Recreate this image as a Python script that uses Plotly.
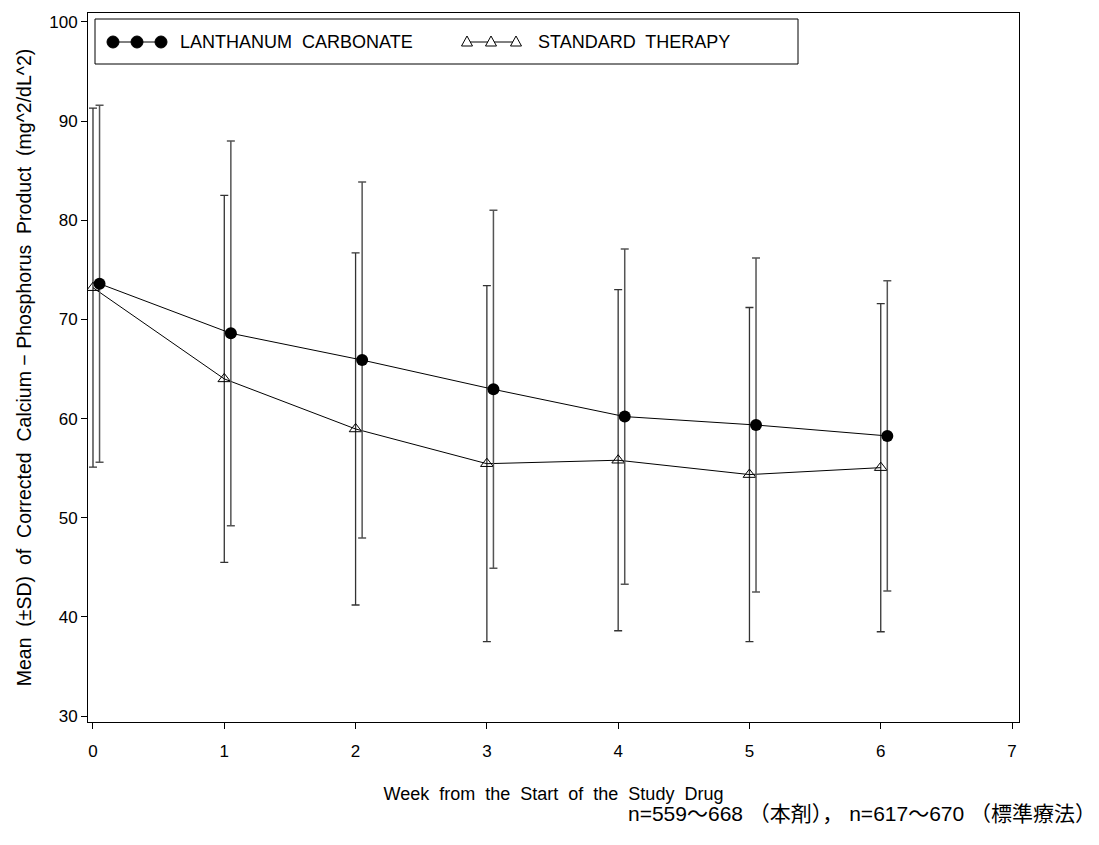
import plotly.graph_objects as go

# Weeks from the start of the study drug
weeks = [0, 1, 2, 3, 4, 5, 6]

# Lanthanum carbonate: mean and SD of corrected Ca x P product
lan_mean = [73.6, 68.6, 65.9, 62.95, 60.2, 59.35, 58.25]
lan_sd = [18.0, 19.4, 17.95, 18.05, 16.9, 16.85, 15.65]

# Standard therapy: mean and SD
std_mean = [73.2, 64.0, 58.95, 55.45, 55.8, 54.35, 55.05]
std_sd = [18.1, 18.5, 17.75, 17.95, 17.2, 16.85, 16.55]

x_ticks = [0, 1, 2, 3, 4, 5, 6, 7]
y_ticks = [30, 40, 50, 60, 70, 80, 90, 100]

series_names = ["LANTHANUM  CARBONATE", "STANDARD  THERAPY"]
x_title = "Week  from  the  Start  of  the  Study  Drug"
y_title = "Mean  (±SD)  of  Corrected  Calcium − Phosphorus  Product  (mg^2/dL^2)"
footnote = "n=559～668 （本剤）， n=617～670 （標準療法）"

FONT = "Liberation Sans, Arial, sans-serif"
W, H = 1099, 845
ML, MR, MT, MB = 88, 80, 13, 123
PW, PH = W - ML - MR, H - MT - MB
LAN_SHIFT = 0.05  # small horizontal dodge so the two groups do not overlap


def px(xp):
    return (xp - ML) / PW


def py(yp):
    return (H - MB - yp) / PH


fig = go.Figure()

fig.add_trace(go.Scatter(
    x=list(weeks), y=std_mean, mode="lines+markers",
    name=series_names[1], showlegend=False,
    line=dict(color="black", width=1),
    marker=dict(symbol="triangle-up-open", size=11, color="black",
                line=dict(width=1)),
    error_y=dict(type="data", array=std_sd, symmetric=True,
                 color="#333333", thickness=1.3, width=4),
))

fig.add_trace(go.Scatter(
    x=[w + LAN_SHIFT for w in weeks], y=lan_mean, mode="lines+markers",
    name=series_names[0], showlegend=False,
    line=dict(color="black", width=1),
    marker=dict(symbol="circle", size=12, color="black"),
    error_y=dict(type="data", array=lan_sd, symmetric=True,
                 color="#555555", thickness=1.5, width=4),
))

# Legend box drawn by hand so each entry shows three markers on a line
shapes = [dict(type="rect", xref="paper", yref="paper",
               x0=px(95), x1=px(798), y0=py(64), y1=py(19),
               line=dict(color="black", width=1), fillcolor="white", layer="above")]
ly = 42
shapes.append(dict(type="line", xref="paper", yref="paper",
                   x0=px(113), x1=px(161), y0=py(ly), y1=py(ly),
                   line=dict(color="black", width=1), layer="above"))
for cx in (113, 137, 161):
    shapes.append(dict(type="circle", xref="paper", yref="paper",
                       x0=px(cx - 6), x1=px(cx + 6), y0=py(ly + 6), y1=py(ly - 6),
                       line=dict(color="black", width=1), fillcolor="black",
                       layer="above"))
shapes.append(dict(type="line", xref="paper", yref="paper",
                   x0=px(467), x1=px(516), y0=py(ly), y1=py(ly),
                   line=dict(color="black", width=1), layer="above"))
for cx in (467, 491, 516):
    path = "M {} {} L {} {} L {} {} Z".format(
        px(cx), py(ly - 6), px(cx - 5.5), py(ly + 4), px(cx + 5.5), py(ly + 4))
    shapes.append(dict(type="path", xref="paper", yref="paper", path=path,
                       line=dict(color="black", width=1), fillcolor="white",
                       layer="above"))

annotations = [
    dict(text=series_names[0], xref="paper", yref="paper", x=px(178), y=py(ly),
         xanchor="left", yanchor="middle", showarrow=False,
         font=dict(family=FONT, size=18, color="black")),
    dict(text=series_names[1], xref="paper", yref="paper", x=px(536), y=py(ly),
         xanchor="left", yanchor="middle", showarrow=False,
         font=dict(family=FONT, size=18, color="black")),
    dict(text=footnote, xref="paper", yref="paper", x=px(1098), y=py(813),
         xanchor="right", yanchor="middle", showarrow=False,
         font=dict(family="Liberation Sans, Noto Sans CJK JP, sans-serif", size=21,
                   color="black")),
]

fig.update_layout(
    width=W, height=H,
    margin=dict(l=ML, r=MR, t=MT, b=MB, pad=0),
    paper_bgcolor="white", plot_bgcolor="white",
    font=dict(family=FONT, color="black", size=17),
    shapes=shapes, annotations=annotations,
    showlegend=False,
)

fig.update_xaxes(
    range=[-0.038, 7.053], tickvals=x_ticks, ticktext=[str(t) for t in x_ticks],
    ticks="outside", ticklen=6, tickcolor="black", showgrid=False, zeroline=False,
    showline=True, linecolor="black", linewidth=1, mirror=True,
    tickfont=dict(family=FONT, size=17), ticklabelstandoff=8,
    title=dict(text=x_title, font=dict(family=FONT, size=18), standoff=26),
)
fig.update_yaxes(
    range=[29.4, 100.9], tickvals=y_ticks, ticktext=[str(t) for t in y_ticks],
    ticks="outside", ticklen=6, tickcolor="black", showgrid=False, zeroline=False,
    showline=True, linecolor="black", linewidth=1, mirror=True,
    tickfont=dict(family=FONT, size=17),
    title=dict(text=y_title, font=dict(family=FONT, size=19.5), standoff=12),
)

fig.write_html("out.html")
